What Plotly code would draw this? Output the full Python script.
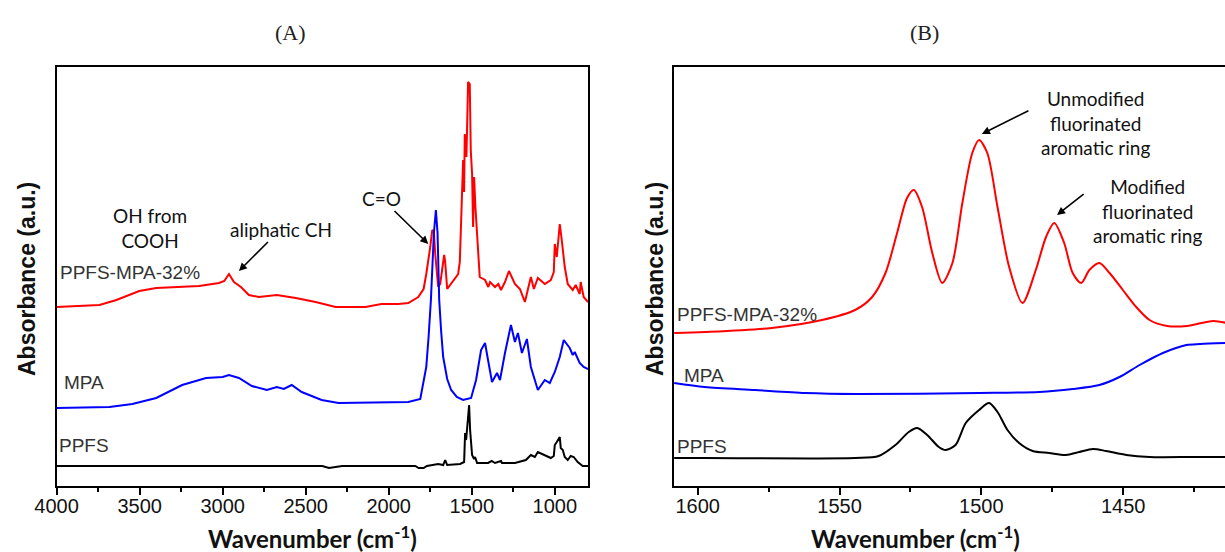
import plotly.graph_objects as go

W, H = 1225, 552

# ---------------- Panel A data (wavenumber cm-1, absorbance a.u.) ----------------
a_red_wn = [4000, 3742, 3640, 3502, 3400, 3142, 3022, 2990, 2962, 2932, 2890, 2842, 2782, 2674, 2560,
            2440, 2320, 2140, 2044, 1942, 1882, 1822, 1790, 1774, 1750, 1738, 1728, 1720, 1702, 1690,
            1672, 1666, 1660, 1648, 1582, 1572, 1552, 1546, 1542, 1532, 1522, 1512, 1506, 1498, 1492,
            1486, 1478, 1470, 1462, 1452, 1420, 1400, 1390, 1360, 1340, 1324, 1300, 1276, 1240, 1210,
            1180, 1144, 1126, 1102, 1060, 1024, 1006, 1000, 988, 976, 970, 958, 940, 922, 892, 874, 850,
            844, 826, 800]
a_red_ab = [2.05, 2.07, 2.12, 2.21, 2.24, 2.26, 2.29, 2.31, 2.38, 2.30, 2.25, 2.17, 2.15, 2.17, 2.14,
            2.10, 2.05, 2.05, 2.08, 2.08, 2.09, 2.15, 2.23, 2.38, 2.65, 2.82, 2.80, 2.58, 2.25, 2.28,
            2.50, 2.57, 2.50, 2.23, 2.38, 2.50, 3.52, 3.20, 3.78, 3.55, 4.30, 4.28, 3.62, 3.38, 2.85,
            3.35, 3.05, 2.82, 2.58, 2.35, 2.32, 2.25, 2.30, 2.25, 2.28, 2.22, 2.30, 2.41, 2.28, 2.23,
            2.10, 2.35, 2.23, 2.34, 2.28, 2.32, 2.40, 2.68, 2.55, 2.80, 2.88, 2.72, 2.45, 2.28, 2.22, 2.27, 2.18,
            2.30, 2.15, 2.10]

a_blue_wn = [4000, 3682, 3544, 3400, 3244, 3100, 3000, 2962, 2902, 2824, 2734, 2674, 2632, 2584, 2524,
             2404, 2302, 2044, 1882, 1810, 1774, 1760, 1746, 1728, 1716, 1706, 1696, 1684, 1672, 1648,
             1624, 1590, 1552, 1504, 1474, 1444, 1420, 1402, 1378, 1348, 1330, 1300, 1264, 1240, 1222,
             1198, 1168, 1144, 1102, 1060, 1030, 1000, 970, 946, 910, 892, 880, 850, 826, 800]
a_blue_ab = [1.04, 1.05, 1.08, 1.14, 1.27, 1.34, 1.35, 1.37, 1.34, 1.26, 1.22, 1.25, 1.23, 1.27, 1.20,
             1.12, 1.09, 1.10, 1.10, 1.13, 1.45, 1.75, 2.12, 2.79, 3.02, 2.79, 2.12, 1.80, 1.55, 1.33,
             1.22, 1.15, 1.12, 1.14, 1.32, 1.62, 1.69, 1.52, 1.30, 1.39, 1.32, 1.59, 1.87, 1.70, 1.79,
             1.59, 1.73, 1.45, 1.22, 1.32, 1.29, 1.40, 1.55, 1.72, 1.64, 1.57, 1.60, 1.49, 1.45, 1.43]

a_black_wn = [4000, 2400, 2360, 2320, 2280, 1840, 1820, 1790, 1770, 1702, 1672, 1660, 1648, 1570, 1546,
              1540, 1534, 1522, 1516, 1510, 1504, 1498, 1486, 1480, 1468, 1402, 1380, 1360, 1324, 1318,
              1240, 1200, 1174, 1144, 1120, 1102, 1060, 1024, 1006, 1000, 988, 976, 970, 964, 952, 940,
              922, 904, 886, 862, 832, 800]
a_black_ab = [0.46, 0.46, 0.44, 0.45, 0.46, 0.46, 0.44, 0.44, 0.46, 0.48, 0.47, 0.52, 0.47, 0.48, 0.50,
              0.79, 0.72, 0.95, 1.07, 0.82, 0.70, 0.57, 0.53, 0.55, 0.49, 0.49, 0.51, 0.49, 0.51, 0.49,
              0.49, 0.51, 0.52, 0.57, 0.55, 0.60, 0.57, 0.54, 0.56, 0.67, 0.70, 0.74, 0.75, 0.64, 0.62, 0.55,
              0.52, 0.56, 0.55, 0.50, 0.46, 0.46]

# ---------------- Panel B data ----------------
b_red_wn = [1608.3, 1597.5, 1573.9, 1556.2, 1544.5, 1538.5, 1533.8, 1529.7, 1526.2, 1523.8, 1520.9,
            1517.3, 1513.8, 1510.2, 1506.7, 1503.2, 1500.8, 1497.9, 1494.3, 1490.2, 1485.5, 1480.8,
            1477.2, 1474.3, 1470.8, 1467.8, 1464.8, 1461.9, 1458.4, 1454.8, 1450.1, 1445.4, 1440.7,
            1434.5, 1427.5, 1418.3, 1413.5]
b_red_ab = [1.78, 1.79, 1.83, 1.91, 2.01, 2.14, 2.38, 2.78, 3.13, 3.21, 3.04,
            2.58, 2.28, 2.48, 3.08, 3.58, 3.71, 3.58, 3.04, 2.44, 2.08, 2.41,
            2.74, 2.88, 2.68, 2.38, 2.28, 2.41, 2.48, 2.38, 2.21, 2.04, 1.91,
            1.85, 1.85, 1.90, 1.88]

b_blue_wn = [1608.3, 1597.5, 1579.8, 1562.1, 1543.3, 1500.8, 1479.6, 1467.8, 1458.4, 1451.3, 1444.2,
             1436.0, 1427.7, 1422.9, 1413.5]
b_blue_ab = [1.28, 1.24, 1.21, 1.18, 1.17, 1.18, 1.19, 1.22, 1.26, 1.34, 1.46,
             1.58, 1.66, 1.67, 1.68]

b_black_wn = [1608.3, 1597.5, 1544.5, 1536.2, 1530.3, 1525.6, 1522.6, 1519.1, 1515.0, 1512.6, 1509.1,
              1505.5, 1500.8, 1497.3, 1494.3, 1490.8, 1486.7, 1481.9, 1476.1, 1470.2, 1465.5, 1460.7,
              1456.0, 1448.9, 1440.7, 1425.3, 1413.5]
b_black_ab = [0.53, 0.53, 0.53, 0.55, 0.66, 0.79, 0.83, 0.76, 0.64, 0.61, 0.66,
              0.88, 1.01, 1.08, 0.99, 0.81, 0.68, 0.60, 0.58, 0.56, 0.59, 0.62,
              0.60, 0.56, 0.54, 0.54, 0.54]

series_names = ["PPFS-MPA-32%", "MPA", "PPFS"]
colors = ["#ff0000", "#0000ff", "#000000"]

fig = go.Figure()
for wn, ab, c in [(a_red_wn, a_red_ab, colors[0]), (a_blue_wn, a_blue_ab, colors[1]),
                  (a_black_wn, a_black_ab, colors[2])]:
    fig.add_trace(go.Scatter(x=wn, y=ab, mode="lines", line=dict(color=c, width=2),
                             xaxis="x", yaxis="y", showlegend=False))
for wn, ab, c in [(b_red_wn, b_red_ab, colors[0]), (b_blue_wn, b_blue_ab, colors[1]),
                  (b_black_wn, b_black_ab, colors[2])]:
    fig.add_trace(go.Scatter(x=wn, y=ab, mode="lines",
                             line=dict(color=c, width=2, shape="spline", smoothing=0.8),
                             xaxis="x2", yaxis="y2", showlegend=False))

ydom = [1 - 486 / H, 1 - 67 / H]
tickfont = dict(family="Liberation Sans, Arial", size=20, color="#111")

fig.update_layout(
    template="none",
    width=W, height=H, margin=dict(l=0, r=0, t=0, b=0, pad=0, autoexpand=False),
    paper_bgcolor="white", plot_bgcolor="white", showlegend=False,
    xaxis=dict(domain=[56.6 / W, 588 / W], range=[4000, 800], tickvals=[4000, 3500, 3000, 2500, 2000, 1500, 1000],
               ticks="outside", ticklen=7, tickwidth=1.5, tickcolor="black", ticklabelstandoff=-6,
               minor=dict(tickvals=[3750, 3250, 2750, 2250, 1750, 1250, 850 + 150], ticks="outside", ticklen=4,
                          tickwidth=1.5, tickcolor="black"),
               showline=True, linewidth=2, linecolor="black", mirror=True, automargin=False,
               showgrid=False, zeroline=False, tickfont=tickfont, anchor="y"),
    yaxis=dict(domain=ydom, range=[0.26, 4.45], showticklabels=False, ticks="",
               showline=True, linewidth=2, linecolor="black", mirror=True, automargin=False,
               showgrid=False, zeroline=False, anchor="x"),
    xaxis2=dict(domain=[673.6 / W, 1.0], range=[1608.5, 1414.1], tickvals=[1600, 1550, 1500, 1450],
                ticks="outside", ticklen=7, tickwidth=1.5, tickcolor="black", ticklabelstandoff=-6,
                minor=dict(tickvals=[1575, 1525, 1475, 1425], ticks="outside", ticklen=4,
                           tickwidth=1.5, tickcolor="black"),
                showline=True, linewidth=2, linecolor="black", mirror=True, automargin=False,
                showgrid=False, zeroline=False, tickfont=tickfont, anchor="y2"),
    yaxis2=dict(domain=ydom, range=[0.25, 4.44], showticklabels=False, ticks="",
                showline=True, linewidth=2, linecolor="black", mirror=False, automargin=False,
                showgrid=False, zeroline=False, anchor="x2"),
)

def px(x, y):
    return x / W, 1 - y / H

ann = []
def text(x, y, t, size=18, family="Lato", xanchor="center", color="#111", bold=False, angle=0):
    px_, py_ = px(x, y)
    ann.append(dict(x=px_, y=py_, xref="paper", yref="paper", text=(f"<b>{t}</b>" if bold else t),
                    showarrow=False, xanchor=xanchor, yanchor="middle", textangle=angle,
                    font=dict(family=family, size=size, color=color)))

# panel titles
text(290, 32, "(A)", size=22, family="Liberation Serif, Times New Roman", color="#222")
text(925, 32, "(B)", size=22, family="Liberation Serif, Times New Roman", color="#222")
# axis titles
text(27, 279, "Absorbance (a.u.)", size=23, family="Liberation Sans, Arial", bold=True, angle=-90)
text(655, 279, "Absorbance (a.u.)", size=23, family="Liberation Sans, Arial", bold=True, angle=-90)
text(312, 537, "Wavenumber (cm<sup>-1</sup>)", size=24, family="Lato", bold=True)
text(915, 537, "Wavenumber (cm<sup>-1</sup>)", size=24, family="Lato", bold=True)
# series labels
lab = dict(size=19, family="Liberation Sans, Arial", xanchor="left", color="#333")
text(58, 272, series_names[0], **lab)
text(62, 382, series_names[1], **lab)
text(57, 445, series_names[2], **lab)
text(675, 314, series_names[0], **lab)
text(682, 375, series_names[1], **lab)
text(675, 446, series_names[2], **lab)
# band annotations (arrows drawn from the label toward the band)
band = dict(xref="x", yref="y", showarrow=True, arrowhead=2, arrowsize=1, arrowwidth=1.6,
            arrowcolor="black", font=dict(family="Lato", size=19, color="#111"))
text(150, 228, "OH from<br>COOH", size=19)
ann.append(dict(x=2902, y=2.41, ax=42, ay=-42, text="aliphatic CH", startstandoff=0, **band))
ann.append(dict(x=1762, y=2.68, ax=-47, ay=-46, text="C=O", **band))
text(1095, 123, "Unmodified<br>fluorinated<br>aromatic ring", size=19)
text(1147, 211, "Modified<br>fluorinated<br>aromatic ring", size=19)

# arrows for panel B labels (head at data position, tail offset in pixels)
arrow = dict(text="", showarrow=True, arrowhead=2, arrowsize=1, arrowwidth=1.6, arrowcolor="black")
ann.append(dict(x=1499.8, y=3.77, xref="x2", yref="y2", ax=48, ay=-24, **arrow))
ann.append(dict(x=1473.3, y=2.96, xref="x2", yref="y2", ax=28, ay=-22, **arrow))

fig.update_layout(annotations=ann)
fig.write_html("out.html")
